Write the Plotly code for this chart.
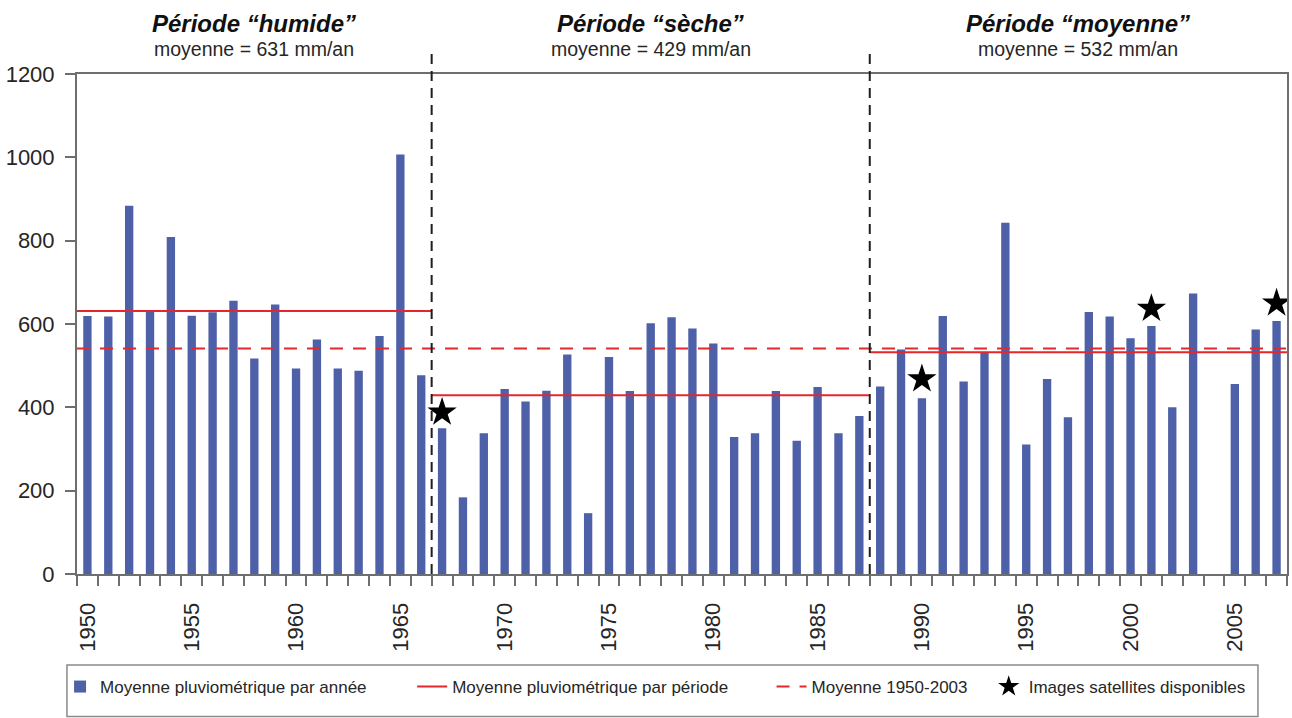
import plotly.graph_objects as go

# ---------------- data ----------------
years = list(range(1950, 2008))
rain = [
    619, 618, 884, 631, 809, 620, 628, 656, 517, 647,   # 1950-1959
    493, 563, 493, 488, 571, 1007, 477,                  # 1960-1966
    350, 184, 338, 444, 414, 440, 527, 146, 521, 439,   # 1967-1976
    602, 616, 589, 553, 329, 338, 439, 320, 449, 338,   # 1977-1986
    379,                                                 # 1987
    450, 539, 422, 619, 462, 531, 843, 311, 468, 376,   # 1988-1997
    629, 618, 566, 595, 400, 673, None, 456, 587, 607,  # 1998-2007
]

period_titles = ["Période “humide”", "Période “sèche”", "Période “moyenne”"]
period_start = [1950, 1967, 1988]
period_end = [1966, 1987, 2007]
period_mean = [631, 429, 532]

overall_mean = 541

satellite_years = [1967, 1990, 2001, 2007]
satellite_marks = [388, 468, 637, 650]

x_labels = [1950, 1955, 1960, 1965, 1970, 1975, 1980, 1985, 1990, 1995, 2000, 2005]
y_labels = [0, 200, 400, 600, 800, 1000, 1200]

# ---------------- style ----------------
BLUE = "#4e60a8"
RED = "#e5262c"
AXIS = "#6e6e6e"
TXT = "#262626"
FONT = "Liberation Sans, Arial, sans-serif"

fig = go.Figure()

fig.add_trace(go.Bar(
    x=years, y=rain, width=0.4,
    marker=dict(color=BLUE, line=dict(width=0)),
    name="Moyenne pluviométrique par année",
    legend="legend", showlegend=True,
))

# period means as separate horizontal segments
px, py = [], []
for s, e, m in zip(period_start, period_end, period_mean):
    px += [s - 0.5, e + 0.5, None]
    py += [m, m, None]
fig.add_trace(go.Scatter(
    x=px, y=py, mode="lines",
    line=dict(color=RED, width=2),
    name="Moyenne pluviométrique par période",
    legend="legend2", showlegend=True,
))

fig.add_trace(go.Scatter(
    x=[years[0] - 0.5, years[-1] + 0.5], y=[overall_mean, overall_mean],
    mode="lines",
    line=dict(color=RED, width=2, dash="13px,10px"),
    name="Moyenne 1950-2003",
    legend="legend3", showlegend=True,
))

fig.add_trace(go.Scatter(
    x=satellite_years, y=satellite_marks, mode="markers",
    marker=dict(symbol="star", size=22, color="black", line=dict(width=0)),
    name="Images satellites disponibles",
    legend="legend4", showlegend=True,
))

# period separators
for s in period_start[1:]:
    fig.add_shape(type="line", xref="x", yref="paper",
                  x0=s - 0.5, x1=s - 0.5, y0=0, y1=1.054,
                  line=dict(color="#1e1e1e", width=2, dash="10px,7px"))

# period titles
for t, s, e, m in zip(period_titles, period_start, period_end, period_mean):
    xc = (s + e) / 2
    fig.add_annotation(x=xc, xref="x", y=1.10, yref="paper", yanchor="middle",
                       text="<b><i>" + t + "</i></b>", showarrow=False,
                       font=dict(family=FONT, size=24, color="#111"))
    fig.add_annotation(x=xc, xref="x", y=1.05, yref="paper", yanchor="middle",
                       text=f"moyenne = {m} mm/an", showarrow=False,
                       font=dict(family=FONT, size=19.5, color=TXT))

# legend frame
fig.add_shape(type="rect", xref="paper", yref="paper",
              x0=-0.0083, x1=0.976, y0=-0.182, y1=-0.285,
              line=dict(color="#8a8a8a", width=1.5), fillcolor="rgba(0,0,0,0)")

leg_common = dict(orientation="h", yanchor="middle", xanchor="left", y=-0.226,
                  bgcolor="rgba(0,0,0,0)", borderwidth=0,
                  font=dict(family=FONT, size=17, color=TXT))

fig.update_layout(
    width=1292, height=718,
    margin=dict(l=77, r=3, t=74, b=144),
    paper_bgcolor="white", plot_bgcolor="white",
    barmode="overlay",
    showlegend=True,
    legend=dict(x=-0.014, **leg_common),
    legend2=dict(x=0.277, **leg_common),
    legend3=dict(x=0.574, **leg_common),
    legend4=dict(x=0.7535, **leg_common),
    xaxis=dict(
        range=[years[0] - 0.5, years[-1] + 0.5],
        tickmode="array", tickvals=x_labels, ticktext=[str(v) for v in x_labels],
        tickangle=-90, ticks="", ticklabelstandoff=18,
        tickfont=dict(family=FONT, size=22, color=TXT),
        showline=True, linecolor=AXIS, linewidth=2, mirror=True,
        showgrid=False, zeroline=False,
        minor=dict(tick0=years[0] - 0.5, dtick=1, ticks="outside",
                   ticklen=10, tickwidth=1.5, tickcolor=AXIS, showgrid=False),
    ),
    yaxis=dict(
        range=[0, 1200], tickmode="array", tickvals=y_labels,
        ticks="outside", ticklen=10, tickwidth=1.5, tickcolor=AXIS,
        ticklabelstandoff=6,
        tickfont=dict(family=FONT, size=22, color=TXT),
        showline=True, linecolor=AXIS, linewidth=2, mirror=True,
        showgrid=False, zeroline=False,
    ),
)

fig.write_html("out.html", config={"displayModeBar": False},
               post_script="document.body.style.margin='0';")
